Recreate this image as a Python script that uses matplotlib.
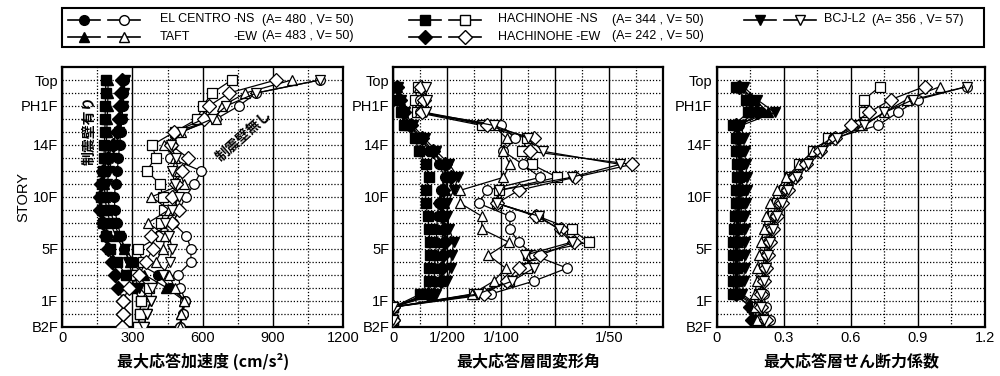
import numpy as np
import matplotlib.pyplot as plt
from matplotlib.patches import Rectangle

plt.rcParams['font.family'] = ['Liberation Sans', 'DejaVu Sans']
JP = ['Noto Sans CJK JP', 'DejaVu Sans']

floors = np.arange(20)            # B2F .. Top
stories = np.arange(19) + 0.5     # mid-height of each story
story_ticks = [0, 2, 6, 10, 14, 17, 19]
story_labels = ["B2F", "1F", "5F", "10F", "14F", "PH1F", "Top"]

# max response acceleration (cm/s2), floors B2F..Top
acc_ec_no = [505, 515, 525, 505, 495, 550, 550, 530, 473, 500, 527, 565, 594, 459, 468, 480, 658, 754, 830, 1100]
acc_taft_no = [502, 509, 520, 480, 456, 400, 430, 440, 367, 456, 381, 520, 500, 480, 435, 506, 655, 684, 783, 980]
acc_hns_no = [325, 331, 338, 370, 317, 345, 324, 421, 424, 435, 430, 417, 360, 399, 385, 480, 577, 601, 640, 724]
acc_hew_no = [255, 259, 260, 285, 330, 357, 388, 378, 471, 501, 470, 485, 513, 537, 464, 478, 606, 627, 712, 913]
acc_bcj_no = [350, 360, 378, 385, 430, 459, 470, 456, 440, 470, 500, 480, 470, 485, 464, 513, 640, 700, 829, 1100]

acc_ec_dw = [505, 515, 525, 460, 410, 310, 265, 250, 235, 225, 222, 228, 235, 240, 245, 250, 255, 258, 260, 262]
acc_taft_dw = [502, 509, 520, 445, 350, 290, 262, 228, 205, 190, 182, 180, 180, 184, 188, 190, 192, 194, 195, 196]
acc_hns_dw = [325, 331, 338, 300, 272, 232, 205, 188, 175, 168, 165, 170, 175, 178, 180, 182, 183, 184, 185, 186]
acc_hew_dw = [255, 259, 260, 239, 225, 212, 196, 185, 172, 161, 160, 166, 176, 195, 215, 232, 242, 248, 252, 255]
acc_bcj_dw = [350, 360, 378, 330, 300, 282, 270, 242, 222, 204, 192, 192, 200, 214, 230, 244, 254, 260, 265, 268]

# max story drift angle (1/1000 rad), stories B2F..PH
drf_ec_no = [0, 0, 9.0, 13.0, 16.1, 13.0, 11.6, 10.8, 10.8, 7.9, 8.7, 13.6, 12.0, 10.2, 11.3, 10.0, 2.5, 2.5, 2.6]
drf_taft_no = [0, 0, 7.3, 9.3, 10.4, 8.8, 10.7, 8.2, 8.2, 6.2, 6.2, 10.2, 10.8, 10.2, 10.5, 9.3, 2.5, 2.7, 2.4]
drf_hns_no = [0, 0, 7.5, 10.7, 12.4, 12.5, 18.1, 16.5, 13.4, 9.6, 9.8, 15.2, 12.8, 11.9, 12.4, 8.2, 2.2, 2.0, 2.3]
drf_hew_no = [0, 0, 8.4, 10.5, 11.6, 13.6, 16.7, 15.5, 13.2, 9.6, 11.6, 16.8, 22.1, 12.7, 13.0, 8.7, 2.7, 2.8, 2.6]
drf_bcj_no = [0, 0, 7.8, 11.0, 13.0, 12.2, 16.5, 15.3, 13.5, 9.6, 9.8, 16.5, 21.0, 13.9, 12.5, 9.3, 3.0, 3.1, 3.0]

drf_ec_dw = [0, 0, 3.0, 3.8, 3.8, 3.9, 4.0, 4.0, 4.1, 4.2, 4.4, 4.8, 4.2, 3.3, 2.6, 1.4, 0.9, 0.5, 0.3]
drf_taft_dw = [0, 0, 3.5, 4.4, 4.2, 4.0, 4.5, 4.6, 4.6, 4.7, 4.8, 5.0, 4.6, 3.6, 2.5, 1.5, 0.9, 0.6, 0.3]
drf_hns_dw = [0, 0, 2.5, 3.3, 3.3, 3.4, 3.4, 3.3, 3.2, 3.0, 3.0, 3.3, 3.0, 2.4, 2.0, 1.0, 0.7, 0.4, 0.2]
drf_hew_dw = [0, 0, 3.2, 4.4, 4.5, 4.6, 4.8, 4.7, 4.5, 4.3, 4.6, 5.3, 4.8, 3.7, 2.7, 1.6, 1.0, 0.6, 0.3]
drf_bcj_dw = [0, 0, 4.0, 5.0, 5.3, 5.4, 5.6, 5.2, 5.0, 5.0, 5.6, 6.0, 5.2, 4.0, 2.9, 1.8, 1.1, 0.7, 0.4]

# max story shear coefficient, stories B2F..PH
shr_ec_no = [0.24, 0.22, 0.21, 0.21, 0.22, 0.22, 0.23, 0.24, 0.26, 0.28, 0.31, 0.34, 0.39, 0.45, 0.52, 0.72, 0.81, 0.90, 1.12]
shr_taft_no = [0.18, 0.17, 0.17, 0.18, 0.18, 0.19, 0.20, 0.21, 0.22, 0.24, 0.27, 0.31, 0.37, 0.43, 0.51, 0.65, 0.75, 0.85, 1.00]
shr_hns_no = [0.20, 0.18, 0.19, 0.20, 0.21, 0.21, 0.22, 0.23, 0.25, 0.27, 0.30, 0.33, 0.37, 0.43, 0.50, 0.63, 0.66, 0.66, 0.73]
shr_hew_no = [0.22, 0.20, 0.20, 0.21, 0.22, 0.23, 0.24, 0.25, 0.27, 0.29, 0.32, 0.35, 0.40, 0.46, 0.53, 0.60, 0.68, 0.78, 0.93]
shr_bcj_no = [0.21, 0.20, 0.20, 0.21, 0.22, 0.23, 0.24, 0.25, 0.27, 0.29, 0.32, 0.36, 0.41, 0.47, 0.54, 0.66, 0.75, 0.88, 1.12]

shr_ec_dw = [0.22, 0.19, 0.10, 0.10, 0.10, 0.10, 0.10, 0.10, 0.11, 0.11, 0.115, 0.115, 0.115, 0.11, 0.105, 0.10, 0.20, 0.16, 0.11]
shr_taft_dw = [0.21, 0.18, 0.09, 0.09, 0.09, 0.09, 0.095, 0.095, 0.10, 0.10, 0.105, 0.10, 0.10, 0.10, 0.095, 0.09, 0.23, 0.17, 0.10]
shr_hns_dw = [0.17, 0.16, 0.075, 0.075, 0.075, 0.075, 0.075, 0.078, 0.08, 0.085, 0.088, 0.09, 0.09, 0.088, 0.085, 0.075, 0.14, 0.13, 0.085]
shr_hew_dw = [0.16, 0.15, 0.085, 0.085, 0.085, 0.085, 0.088, 0.09, 0.09, 0.095, 0.10, 0.105, 0.105, 0.10, 0.095, 0.085, 0.18, 0.15, 0.10]
shr_bcj_dw = [0.20, 0.19, 0.115, 0.12, 0.125, 0.125, 0.125, 0.125, 0.125, 0.13, 0.135, 0.135, 0.13, 0.125, 0.12, 0.11, 0.26, 0.18, 0.12]

markers = {'ec': 'o', 'taft': '^', 'hns': 's', 'hew': 'D', 'bcj': 'v'}
msize = {'ec': 7, 'taft': 7.5, 'hns': 7, 'hew': 7, 'bcj': 7.5}


def draw(ax, y, dw, no, scale=1.0):
    for key in ['hns', 'ec', 'taft', 'hew', 'bcj']:
        ax.plot(np.array(dw[key]) * scale, y, color='black', lw=0.9, marker=markers[key],
                ms=msize[key], mfc='black', mec='black', zorder=3)
    for key in ['hns', 'ec', 'taft', 'hew', 'bcj']:
        ax.plot(np.array(no[key]) * scale, y, color='black', lw=0.9, marker=markers[key],
                ms=msize[key], mfc='white', mec='black', mew=0.9, zorder=4)


def setup(ax, xmax, major, labels, xlabel):
    ax.set_xlim(0, xmax)
    ax.set_ylim(0, 20)
    ax.set_xticks(np.arange(0, xmax + major / 2, major))
    ax.set_xticklabels(labels)
    ax.set_xticks(np.arange(major / 2, xmax, major), minor=True)
    ax.set_yticks(story_ticks, story_labels)
    ax.set_yticks(floors, minor=True)
    ax.grid(axis='x', which='major', color='black', lw=1.0, ls='-')
    ax.grid(axis='x', which='minor', color='black', lw=0.9, ls=(0, (1, 1.5)))
    ax.grid(axis='y', which='both', color='black', lw=0.9, ls=(0, (1, 1.5)))
    ax.set_axisbelow(True)
    ax.tick_params(which='both', length=0, labelsize=10.5, pad=3)
    for s in ax.spines.values():
        s.set_linewidth(1.6)
    ax.set_xlabel(xlabel, family=JP, fontsize=11.5, fontweight='bold', labelpad=6)


fig = plt.figure(figsize=(10, 3.76), dpi=100)
bottom, height = 0.1316, 0.690
ax1 = fig.add_axes([0.0623, bottom, 0.2807, height])
ax2 = fig.add_axes([0.3933, bottom, 0.2700, height])
ax3 = fig.add_axes([0.7167, bottom, 0.2683, height])

draw(ax1, floors,
     {'ec': acc_ec_dw, 'taft': acc_taft_dw, 'hns': acc_hns_dw, 'hew': acc_hew_dw, 'bcj': acc_bcj_dw},
     {'ec': acc_ec_no, 'taft': acc_taft_no, 'hns': acc_hns_no, 'hew': acc_hew_no, 'bcj': acc_bcj_no})
draw(ax2, stories,
     {'ec': drf_ec_dw, 'taft': drf_taft_dw, 'hns': drf_hns_dw, 'hew': drf_hew_dw, 'bcj': drf_bcj_dw},
     {'ec': drf_ec_no, 'taft': drf_taft_no, 'hns': drf_hns_no, 'hew': drf_hew_no, 'bcj': drf_bcj_no},
     scale=0.001)
draw(ax3, stories,
     {'ec': shr_ec_dw, 'taft': shr_taft_dw, 'hns': shr_hns_dw, 'hew': shr_hew_dw, 'bcj': shr_bcj_dw},
     {'ec': shr_ec_no, 'taft': shr_taft_no, 'hns': shr_hns_no, 'hew': shr_hew_no, 'bcj': shr_bcj_no})

setup(ax1, 1200, 300, ["0", "300", "600", "900", "1200"], "最大応答加速度 (cm/s²)")
setup(ax2, 0.025, 0.005, ["0", "1/200", "1/100", "", "1/50", ""], "最大応答層間変形角")
setup(ax3, 1.2, 0.3, ["0", "0.3", "0.6", "0.9", "1.2"], "最大応答層せん断力係数")
ax1.set_ylabel("STORY", fontsize=10.5)
ax1.yaxis.set_label_coords(-0.115, 0.5)

ax1.text(118, 15.1, "制震壁有り", family=JP, fontsize=10, fontweight='bold', rotation=90,
         ha='center', va='center', zorder=5)
ax1.text(778, 14.7, "制震壁無し", family=JP, fontsize=10, fontweight='bold', rotation=42,
         ha='center', va='center', zorder=5)

# legend box drawn in pixel space
lg = fig.add_axes([0, 0, 1, 1])
lg.set_xlim(0, 1000)
lg.set_ylim(376, 0)
lg.axis('off')
lg.add_patch(Rectangle((62, 8), 922, 39, fill=False, lw=1.5, ec='black'))

entries = [
    (68, 19.5, 'ec', [("EL CENTRO", 160), ("-NS", 233), ("(A= 480 , V= 50)", 262)]),
    (68, 36.5, 'taft', [("TAFT", 160), ("-EW", 233), ("(A= 483 , V= 50)", 262)]),
    (409, 19.5, 'hns', [("HACHINOHE -NS", 498), ("(A= 344 , V= 50)", 612)]),
    (409, 36.5, 'hew', [("HACHINOHE -EW", 498), ("(A= 242 , V= 50)", 612)]),
    (744, 19.5, 'bcj', [("BCJ-L2", 824), ("(A= 356 , V= 57)", 872)]),
]
for x0, yy, key, parts in entries:
    lg.plot([x0, x0 + 32], [yy, yy], color='black', lw=1.2)
    lg.plot([x0 + 16], [yy], marker=markers[key], ms=msize[key], mfc='black', mec='black', color='black')
    lg.plot([x0 + 40, x0 + 72], [yy, yy], color='black', lw=1.2)
    lg.plot([x0 + 56], [yy], marker=markers[key], ms=msize[key], mfc='white', mec='black', color='black')
    for label, tx in parts:
        lg.text(tx, yy, label, fontsize=9, va='center', ha='left')

fig.savefig("out.png", dpi=100)
